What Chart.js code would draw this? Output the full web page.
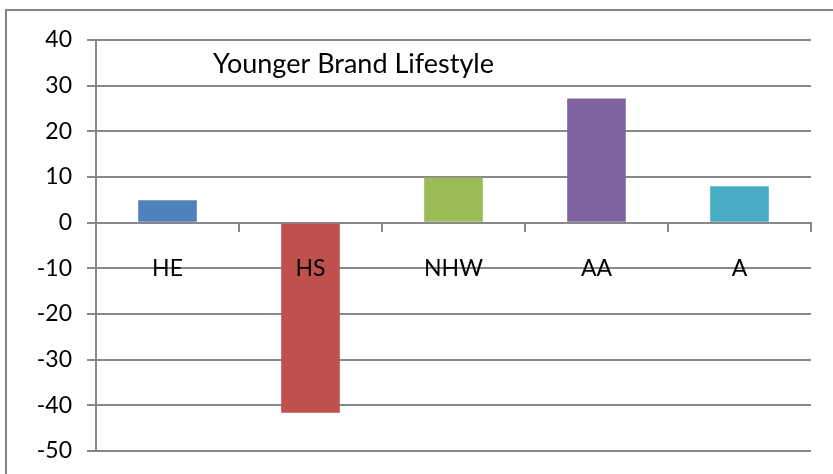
<!DOCTYPE html>
<html>
<head>
<meta charset="utf-8">
<script src="https://cdn.jsdelivr.net/npm/chart.js@4"></script>
<style>
  html, body { margin: 0; padding: 0; background: #fff; overflow: hidden; }
  #wrap { position: relative; width: 833px; height: 474px; }
  #frame {
    position: absolute; left: 5px; top: 9px; width: 900px; height: 600px;
    border-left: 2px solid #868686; border-top: 2px solid #868686;
  }
  canvas { position: absolute; left: 0; top: 0; }
</style>
</head>
<body>
<div id="wrap">
  <div id="frame"></div>
  <canvas id="chart" width="833" height="474"></canvas>
</div>
<script>
const categories = ["HE", "HS", "NHW", "AA", "A"];
const values = [4.9, -41.6, 9.9, 27.2, 8.0];
const barColors = ["#4F81BD", "#C0504D", "#9BBB59", "#8064A2", "#4BACC6"];
const chartTitle = "Younger Brand Lifestyle";
const yMin = -50, yMax = 40, yStep = 10;

const fontName = "Lato, 'Open Sans', sans-serif";
const gridColor = "#888888";

// title sits inside the plot, between the 40 and 30 gridlines
const innerTitle = {
    id: "innerTitle",
    afterDraw(chart) {
        const ctx = chart.ctx;
        const y = chart.scales.y.getPixelForValue(35);
        ctx.save();
        ctx.font = "27px " + fontName;
        ctx.fillStyle = "#000";
        ctx.textBaseline = "middle";
        ctx.textAlign = "left";
        ctx.fillText(chartTitle, chart.chartArea.left + 117, y + 1);
        ctx.restore();
    }
};

const ctx = document.getElementById("chart").getContext("2d");
const chart = new Chart(ctx, {
    type: "bar",
    data: {
        labels: categories,
        datasets: [{
            data: values,
            backgroundColor: barColors,
            borderWidth: 0,
            categoryPercentage: 1,
            barPercentage: 0.41
        }]
    },
    options: {
        responsive: false,
        animation: false,
        layout: { padding: { top: 40, right: 22, bottom: 23, left: 0 } },
        plugins: { legend: { display: false }, tooltip: { enabled: false } },
        scales: {
            x: {
                position: { y: 0 },
                grid: { drawOnChartArea: false, color: gridColor, lineWidth: 2, tickLength: 8, offset: true },
                border: { color: gridColor, width: 2 },
                ticks: { z: 1, color: "#000", font: { family: fontName, size: 23 }, padding: 24 }
            },
            y: {
                min: yMin,
                max: yMax,
                afterFit(scale) {
                    scale.width = 96;
                    scale.paddingTop = 0;
                    scale.paddingBottom = 0;
                },
                grid: { color: gridColor, lineWidth: 2, tickLength: 9 },
                border: { color: gridColor, width: 2 },
                ticks: { stepSize: yStep, color: "#000", font: { family: fontName, size: 23 }, padding: 15 }
            }
        }
    },
    plugins: [innerTitle]
});
</script>
</body>
</html>
